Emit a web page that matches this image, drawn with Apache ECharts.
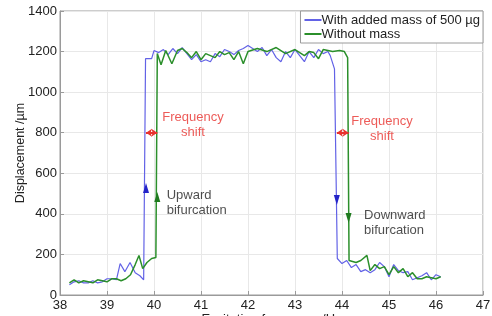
<!DOCTYPE html>
<html>
<head>
<meta charset="utf-8">
<script src="https://cdn.jsdelivr.net/npm/echarts@6/dist/echarts.min.js"></script>
<style>
  html, body { margin: 0; padding: 0; background: #fff; }
  #chart { width: 492px; height: 316px; }
</style>
</head>
<body>
<div id="chart"></div>
<script>
// with added mass (blue)
const freqMass = [38.2, 38.3, 38.4, 38.5, 38.6, 38.7, 38.8, 38.9, 39.0, 39.1, 39.2, 39.28, 39.38, 39.49, 39.6, 39.7, 39.78, 39.82, 39.95,
  40.0, 40.1, 40.2, 40.3, 40.4, 40.5, 40.6, 40.7, 40.8, 40.9, 41.0, 41.1, 41.2, 41.3, 41.4, 41.5, 41.6, 41.7, 41.8, 41.9,
  42.0, 42.1, 42.2, 42.3, 42.4, 42.5, 42.6, 42.7, 42.8, 42.9, 43.0, 43.1, 43.2, 43.3, 43.4, 43.5, 43.6, 43.7, 43.75, 43.84, 43.9,
  44.0, 44.1, 44.2, 44.3, 44.4, 44.5, 44.6, 44.7, 44.8, 44.9, 45.0, 45.1, 45.2, 45.3, 45.4, 45.5, 45.6, 45.7, 45.8, 45.9, 46.0, 46.1];
const dispMass = [50, 65, 70, 60, 60, 70, 60, 65, 80, 80, 75, 155, 115, 160, 110, 95, 75, 1165, 1165,
  1205, 1195, 1210, 1185, 1215, 1190, 1220, 1190, 1160, 1185, 1150, 1160, 1150, 1190, 1175, 1210, 1200, 1185, 1205, 1215,
  1230, 1215, 1200, 1220, 1180, 1210, 1170, 1150, 1200, 1170, 1210, 1180, 1150, 1200, 1170, 1210, 1190, 1200, 1180, 1115, 180,
  155, 170, 135, 150, 115, 125, 110, 125, 160, 140, 90, 150, 120, 110, 115, 75, 85, 95, 110, 75, 100, 90];

// without mass (green)
const freqNoMass = [38.2, 38.3, 38.4, 38.5, 38.6, 38.7, 38.8, 38.9, 39.0, 39.1, 39.2, 39.3, 39.4, 39.5, 39.6, 39.68, 39.76, 39.85, 39.95, 40.04, 40.07,
  40.1, 40.15, 40.25, 40.38, 40.5, 40.6, 40.7, 40.8, 40.9, 41.0, 41.1, 41.2, 41.3, 41.4, 41.5, 41.6, 41.7, 41.8, 41.9,
  42.0, 42.2, 42.4, 42.6, 42.8, 43.0, 43.2, 43.3, 43.4, 43.5, 43.6, 43.8, 43.95, 44.05, 44.12, 44.15,
  44.3, 44.4, 44.53, 44.6, 44.7, 44.8, 44.9, 45.0, 45.1, 45.2, 45.3, 45.4, 45.5, 45.6, 45.7, 45.8, 45.9, 46.0, 46.1];
const dispNoMass = [60, 75, 60, 70, 65, 60, 75, 70, 65, 80, 80, 70, 80, 100, 150, 195, 130, 160, 180, 185, 1190,
  1195, 1135, 1205, 1140, 1205, 1215, 1195, 1170, 1200, 1160, 1190, 1180, 1170, 1200, 1185, 1195, 1160, 1200, 1140,
  1200, 1215, 1200, 1220, 1190, 1210, 1180, 1200, 1195, 1165, 1210, 1200, 1205, 1200, 1170, 170,
  160, 170, 195, 120, 150, 130, 140, 100, 140, 110, 130, 90, 110, 80, 80, 90, 85, 80, 90];

const xTicks = [38, 39, 40, 41, 42, 43, 44, 45, 46, 47];
const yTicks = [0, 200, 400, 600, 800, 1000, 1200, 1400];

const blue = '#6262e6';
const green = '#2b8f2b';
const red = '#e8322e';

const chart = echarts.init(document.getElementById('chart'));
const font = 'Liberation Sans, Arial, sans-serif';

const option = {
  animation: false,
  textStyle: { fontFamily: font },
  grid: {
    left: 60, right: 9, top: 11, bottom: 21, show: true, borderColor: '#9a9a9a', borderWidth: 1,
    containLabel: false, outerBoundsMode: 'none'
  },
  legend: {
    orient: 'vertical', right: 9, top: 11,
    backgroundColor: '#fff', borderColor: '#9a9a9a', borderWidth: 1,
    padding: [2, 3, 2, 4], itemGap: 0, itemWidth: 17, itemHeight: 2,
    icon: 'rect',
    textStyle: { fontSize: 13, color: '#222', lineHeight: 14, padding: [0, 0, 0, -5] },
    data: ['With added mass of 500 µg', 'Without mass']
  },
  xAxis: {
    type: 'value', min: xTicks[0], max: xTicks[xTicks.length - 1], interval: 1,
    name: 'Excitation frequency /Hz', nameLocation: 'middle', nameGap: 18, nameMoveOverlap: false,
    nameTextStyle: { fontSize: 13, color: '#222' },
    axisLine: { lineStyle: { color: '#9a9a9a' } },
    axisTick: { inside: true, length: 4, lineStyle: { color: '#9a9a9a' } },
    axisLabel: { fontSize: 13, color: '#222', margin: 4 },
    splitLine: { show: true, lineStyle: { color: '#e8e8e8' } }
  },
  yAxis: {
    type: 'value', min: yTicks[0], max: yTicks[yTicks.length - 1], interval: 200,
    name: 'Displacement /µm', nameLocation: 'middle', nameGap: 33, nameMoveOverlap: false,
    nameTextStyle: { fontSize: 12.5, color: '#222' },
    axisLine: { show: true, lineStyle: { color: '#9a9a9a' } },
    axisTick: { show: true, inside: true, length: 4, lineStyle: { color: '#9a9a9a' } },
    axisLabel: { fontSize: 13, color: '#222', margin: 3, formatter: v => String(v) },
    splitLine: { show: true, lineStyle: { color: '#e8e8e8' } }
  },
  series: [
    {
      name: 'With added mass of 500 µg', type: 'line', showSymbol: false,
      data: freqMass.map((f, i) => [f, dispMass[i]]),
      lineStyle: { color: blue, width: 1.2 }, itemStyle: { color: blue },
      markPoint: {
        symbol: 'triangle', symbolSize: [6, 10], itemStyle: { color: '#2424c8' }, label: { show: false },
        data: [
          { coord: [39.83, 527] },
          { coord: [43.89, 468], symbolRotate: 180 }
        ]
      }
    },
    {
      name: 'Without mass', type: 'line', showSymbol: false,
      data: freqNoMass.map((f, i) => [f, dispNoMass[i]]),
      lineStyle: { color: green, width: 1.5 }, itemStyle: { color: green },
      markPoint: {
        symbol: 'triangle', symbolSize: [6, 10], itemStyle: { color: '#1f7a1f' }, label: { show: false },
        data: [
          { coord: [40.07, 483] },
          { coord: [44.14, 379], symbolRotate: 180 }
        ]
      },
      markLine: {
        silent: true, symbol: ['arrow', 'arrow'], symbolSize: [6, 6],
        lineStyle: { color: red, width: 2, type: 'solid' }, label: { show: false },
        data: [
          [{ coord: [39.83, 800] }, { coord: [40.07, 800] }],
          [{ coord: [43.89, 800] }, { coord: [44.14, 800] }]
        ]
      }
    },
    {
      type: 'scatter', silent: true, symbolSize: 0, legendHoverLink: false,
      data: [
        { value: [40.83, 838], label: { formatter: 'Frequency\nshift', color: red, position: 'inside', align: 'center' } },
        { value: [44.85, 818], label: { formatter: 'Frequency\nshift', color: red, position: 'inside', align: 'center' } },
        { value: [40.27, 453], label: { formatter: 'Upward\nbifurcation', color: '#222', position: 'right', distance: 0, align: 'left' } },
        { value: [44.47, 355], label: { formatter: 'Downward\nbifurcation', color: '#222', position: 'right', distance: 0, align: 'left' } }
      ],
      label: { show: true, fontSize: 13, lineHeight: 15 }
    }
  ]
};
chart.setOption(option);
</script>
</body>
</html>
